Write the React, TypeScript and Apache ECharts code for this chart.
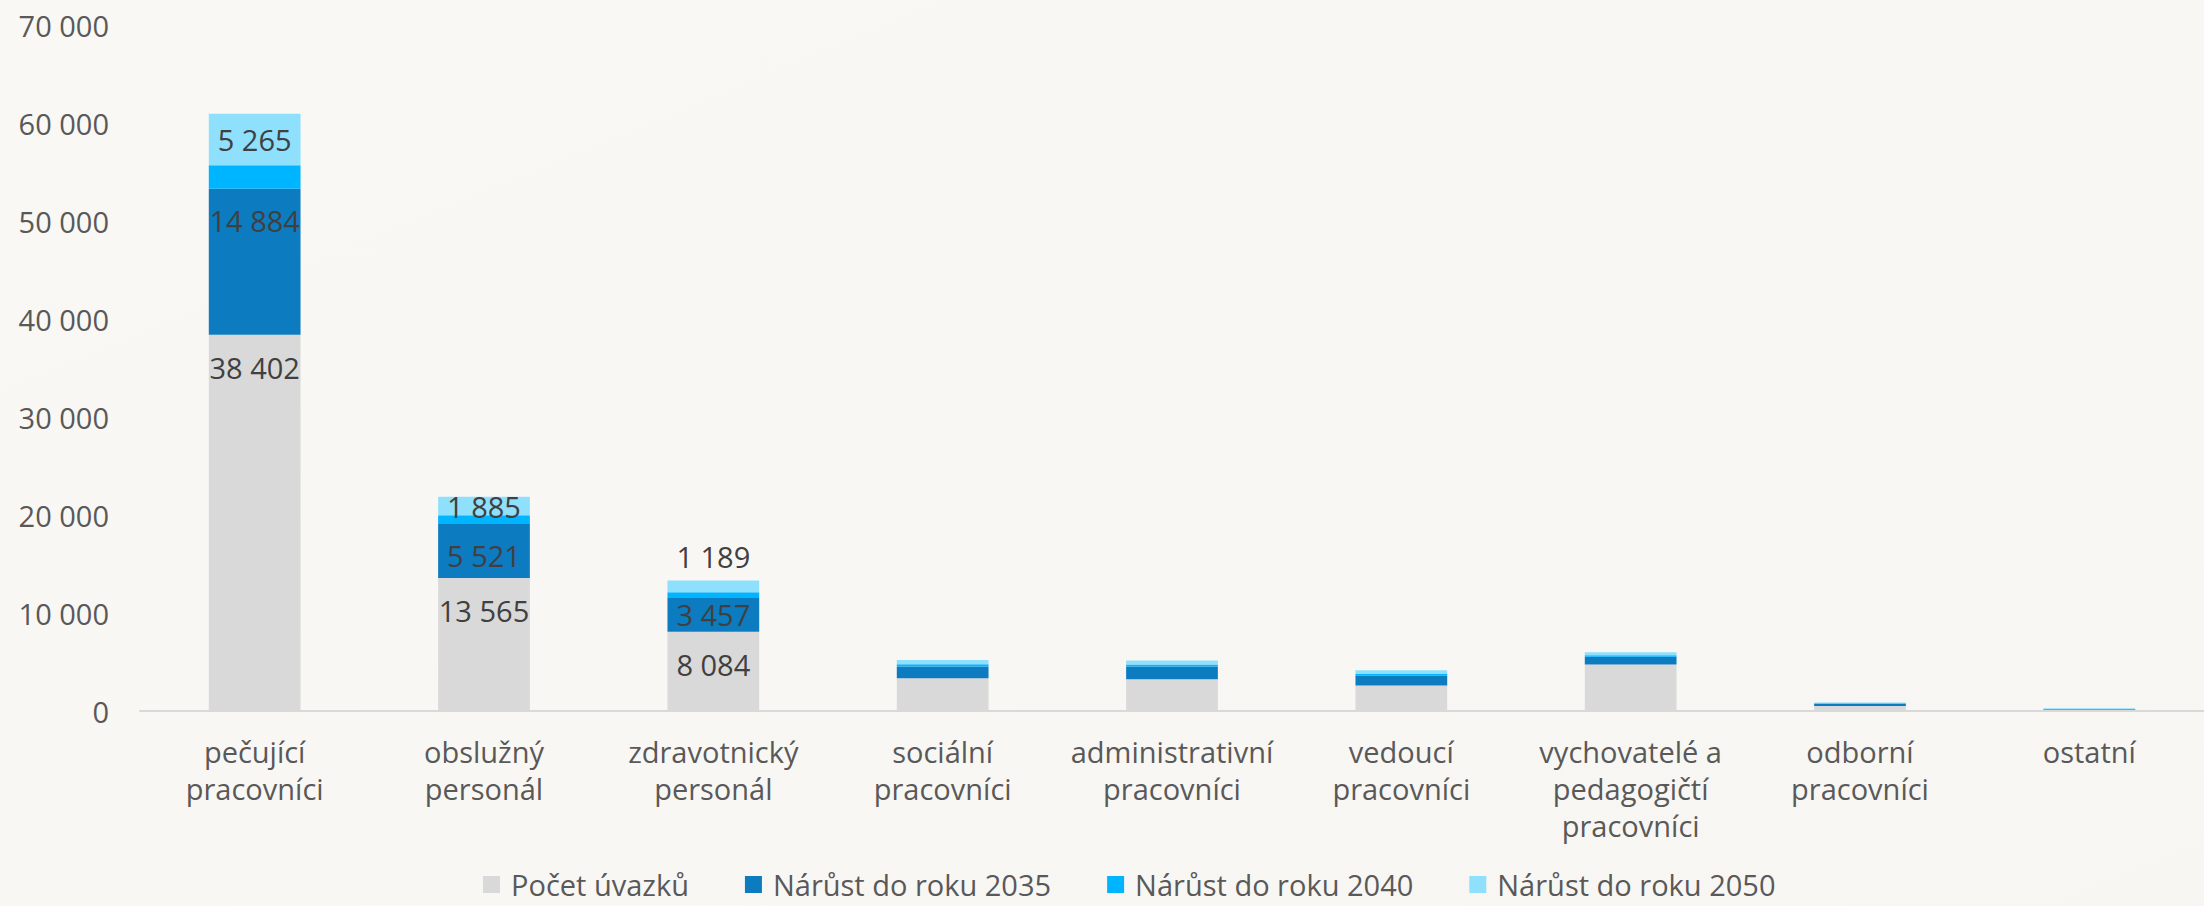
import React, { useEffect, useRef } from "react";
import * as echarts from "echarts";

const categories = [
  "pečující\npracovníci",
  "obslužný\npersonál",
  "zdravotnický\npersonál",
  "sociální\npracovníci",
  "administrativní\npracovníci",
  "vedoucí\npracovníci",
  "vychovatelé a\npedagogičtí\npracovníci",
  "odborní\npracovníci",
  "ostatní",
];

const seriesNames = [
  "Počet úvazků",
  "Nárůst do roku 2035",
  "Nárůst do roku 2040",
  "Nárůst do roku 2050",
];

const pocetUvazku = [38402, 13565, 8084, 3350, 3250, 2600, 4750, 500, 100];
const narust2035 = [14884, 5521, 3457, 1200, 1300, 1000, 780, 230, 60];
const narust2040 = [2400, 880, 580, 230, 200, 180, 170, 50, 40];
const narust2050 = [5265, 1885, 1189, 420, 400, 380, 300, 80, 80];

const yTicks = [0, 10000, 20000, 30000, 40000, 50000, 60000, 70000];

const colors = ["#D9D9D9", "#0D7BBF", "#00B5FF", "#8FE0FC"];

const fmt = (v: number) =>
  String(Math.round(v)).replace(/\B(?=(\d{3})+(?!\d))/g, " ");

const FONT = "'Open Sans', sans-serif";
const FS = 29;

export default function App() {
  const ref = useRef<HTMLDivElement>(null);

  useEffect(() => {
    if (!ref.current) return;
    const chart = echarts.init(ref.current, undefined, { renderer: "svg" });

    const labelBase = {
      show: true,
      color: "#404040",
      fontSize: FS,
      fontFamily: FONT,
      formatter: (p: any) => (p.dataIndex < 3 ? fmt(p.value) : ""),
    };

    const withLabels = (
      values: number[],
      labelFor: (i: number) => any
    ) =>
      values.map((v, i) => ({
        value: v,
        label: labelFor(i),
      }));

    const grayData = withLabels(pocetUvazku, () => ({
      position: "insideTop",
      distance: 18,
    }));
    const darkData = withLabels(narust2035, (i) =>
      i < 2 ? { position: "insideTop", distance: 17 } : { position: "inside" }
    );
    const brightData = narust2040.map((v) => v);
    const lightData = withLabels(narust2050, (i) =>
      i < 2 ? { position: "inside" } : { position: "top", distance: 10 }
    );

    const allData = [grayData, darkData, brightData, lightData];

    chart.setOption({
      animation: false,
      backgroundColor: {
        type: "linear",
        x: 0,
        y: 0,
        x2: 1,
        y2: 1,
        colorStops: [
          { offset: 0, color: "#F9F8F5" },
          { offset: 0.5, color: "#F9F7F4" },
          { offset: 1, color: "#F7F6F2" },
        ],
      },
      textStyle: { fontFamily: FONT },
      grid: { left: 140, right: -15, top: 25, bottom: 195, containLabel: false },
      legend: {
        data: seriesNames,
        left: 478,
        top: 865,
        icon: "rect",
        itemWidth: 17,
        itemHeight: 17,
        itemGap: 56,
        textStyle: {
          color: "#595959",
          fontSize: FS,
          fontFamily: FONT,
          padding: [0, 0, 0, 6],
        },
      },
      xAxis: {
        type: "category",
        data: categories,
        axisLine: { show: true, lineStyle: { color: "#D9D9D9", width: 2 } },
        axisTick: { show: false },
        axisLabel: {
          interval: 0,
          color: "#595959",
          fontSize: FS,
          fontFamily: FONT,
          lineHeight: 37,
          margin: 22,
        },
      },
      yAxis: {
        type: "value",
        min: yTicks[0],
        max: yTicks[yTicks.length - 1],
        interval: yTicks[1] - yTicks[0],
        axisLine: { show: false },
        axisTick: { show: false },
        splitLine: { show: false },
        axisLabel: {
          color: "#595959",
          fontSize: FS,
          fontFamily: FONT,
          margin: 31,
          formatter: (v: number) => fmt(v),
        },
      },
      series: seriesNames.map((name, si) => ({
        name,
        type: "bar",
        stack: "total",
        barWidth: "40%",
        itemStyle: { color: colors[si] },
        label: si === 2 ? { show: false } : labelBase,
        data: allData[si],
      })),
    });

    return () => chart.dispose();
  }, []);

  return (
    <div
      ref={ref}
      style={{ position: "fixed", left: 0, top: 0, width: 2204, height: 906 }}
    />
  );
}
